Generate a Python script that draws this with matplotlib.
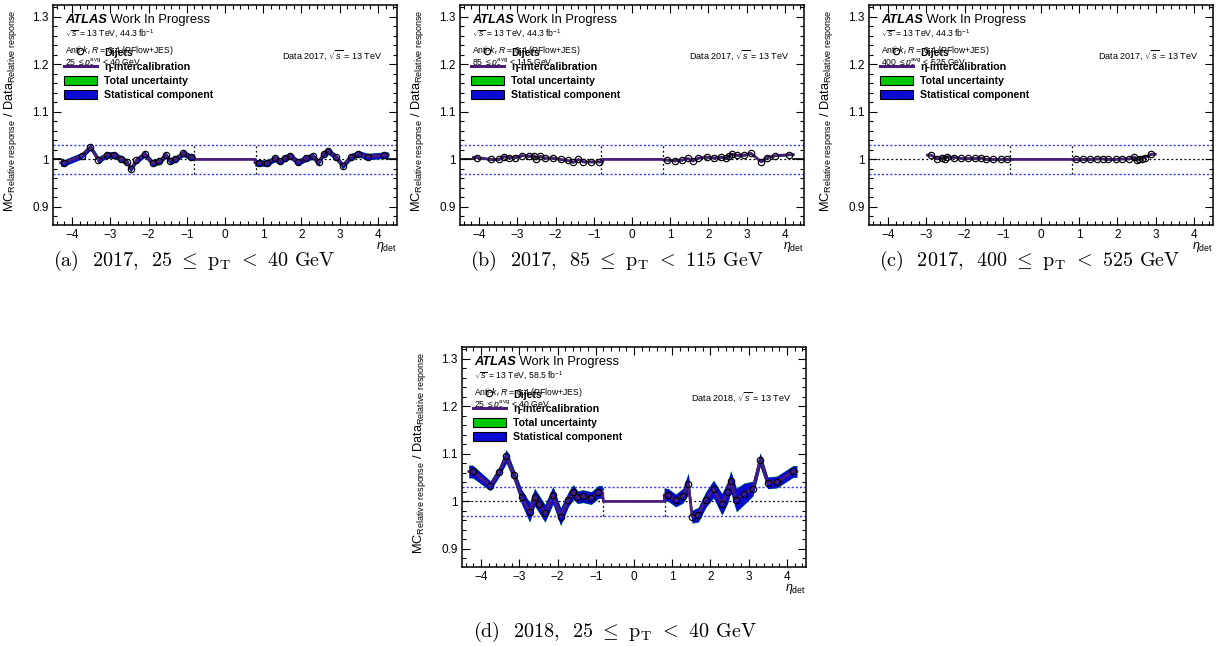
import matplotlib
matplotlib.use('Agg')
import matplotlib.pyplot as plt
from matplotlib.lines import Line2D
from matplotlib.patches import Patch
from matplotlib.ticker import MultipleLocator
import numpy as np

plt.rcParams['font.family'] = ['Liberation Sans', 'DejaVu Sans']
plt.rcParams['mathtext.fontset'] = 'custom'
plt.rcParams['mathtext.rm'] = 'Liberation Sans'
plt.rcParams['mathtext.it'] = 'Liberation Sans:italic'
plt.rcParams['mathtext.bf'] = 'Liberation Sans:bold'

# (a) 2017, 25-40 GeV
eta_a = [-4.20, -3.75, -3.52, -3.31, -3.10, -2.91, -2.71, -2.56, -2.47, -2.32, -2.10,
         -1.89, -1.72, -1.55, -1.44, -1.31, -1.09, -0.90,
         0.88, 1.09, 1.31, 1.44, 1.57, 1.70, 1.91, 2.11, 2.29, 2.45, 2.58, 2.70,
         2.90, 3.08, 3.30, 3.49, 3.74, 4.17]
resp_a = [0.993, 1.008, 1.026, 0.999, 1.009, 1.010, 1.001, 0.994, 0.980, 0.998, 1.011,
          0.992, 0.996, 1.009, 0.997, 1.000, 1.013, 1.005,
          0.993, 0.992, 1.002, 0.996, 1.003, 1.008, 0.994, 1.002, 1.007, 0.994, 1.012, 1.018,
          1.005, 0.987, 1.006, 1.012, 1.006, 1.009]
stat_a = 0.0065

# (b) 2017, 85-115 GeV
eta_b = [-4.05, -3.70, -3.48, -3.35, -3.23, -3.07, -2.87, -2.70, -2.56, -2.50, -2.41,
         -2.28, -2.06, -1.87, -1.68, -1.54, -1.40, -1.27, -1.07, -0.86,
         0.92, 1.12, 1.32, 1.46, 1.59, 1.73, 1.95, 2.15, 2.32, 2.47, 2.54, 2.61, 2.74,
         2.94, 3.11, 3.38, 3.53, 3.75, 4.12]
resp_b = [1.004, 1.000, 1.000, 1.006, 1.004, 1.004, 1.008, 1.007, 1.008, 1.001, 1.007,
          1.003, 1.003, 1.000, 0.998, 0.994, 1.000, 0.995, 0.995, 0.995,
          0.999, 0.997, 0.999, 1.002, 0.997, 1.003, 1.005, 1.003, 1.005, 1.002, 1.007, 1.011, 1.009,
          1.009, 1.013, 0.995, 1.004, 1.008, 1.010]
stat_b = 0.0018

# (c) 2017, 400-525 GeV
eta_c = [-2.87, -2.71, -2.58, -2.52, -2.45, -2.28, -2.08, -1.91, -1.73, -1.57, -1.44,
         -1.25, -1.05, -0.88,
         0.92, 1.10, 1.28, 1.46, 1.61, 1.76, 1.96, 2.13, 2.31, 2.44, 2.51, 2.57, 2.63,
         2.72, 2.89]
resp_c = [1.009, 1.001, 1.004, 1.000, 1.006, 1.004, 1.002, 1.002, 1.002, 1.003, 1.000,
          1.000, 1.000, 1.000,
          1.000, 1.000, 1.000, 1.001, 1.001, 1.000, 1.000, 1.001, 1.001, 1.005, 0.999, 1.000, 1.001,
          1.004, 1.011]
stat_c = 0.0012

# (d) 2018, 25-40 GeV
eta_d = [-4.22, -3.76, -3.54, -3.34, -3.14, -2.94, -2.73, -2.60, -2.48, -2.33, -2.12,
         -1.92, -1.72, -1.59, -1.48, -1.33, -1.12, -0.93,
         0.89, 1.09, 1.28, 1.42, 1.52, 1.68, 1.88, 2.08, 2.30, 2.45, 2.53, 2.68, 2.88,
         3.11, 3.30, 3.50, 3.74, 4.16]
resp_d = [1.063, 1.033, 1.061, 1.095, 1.055, 1.010, 0.977, 1.009, 0.994, 0.975, 1.013,
          0.968, 1.004, 1.020, 1.009, 1.011, 1.007, 1.020,
          1.014, 1.002, 1.012, 1.037, 0.968, 0.972, 1.004, 1.026, 0.994, 1.019, 1.042, 1.003, 1.016,
          1.027, 1.088, 1.039, 1.041, 1.063]
stat_d = [0.013, 0.010, 0.010, 0.014, 0.012, 0.015, 0.020, 0.018, 0.018, 0.018, 0.018,
          0.018, 0.015, 0.015, 0.013, 0.013, 0.013, 0.013,
          0.013, 0.013, 0.015, 0.022, 0.013, 0.015, 0.016, 0.018, 0.022, 0.022, 0.022, 0.024, 0.022,
          0.015, 0.014, 0.012, 0.012, 0.012]

purple = '#4a1d78'
blue = '#0a0ad2'
green = '#00c800'


def draw_panel(ax, eta, resp, stat, lumi, year, pt_lo, pt_hi, solid_ends):
    eta = np.array(eta)
    resp = np.array(resp)
    stat = np.broadcast_to(np.array(stat, dtype=float), eta.shape)

    ax.axhline(1.0, color='k', ls=(0, (1.5, 2)), lw=0.9, zorder=1)
    ax.axhline(1.03, color='#3a3aff', ls=(0, (1.5, 1.5)), lw=1.0, zorder=1)
    ax.axhline(0.97, color='#3a3aff', ls=(0, (1.5, 1.5)), lw=1.0, zorder=1)
    for xv in (-0.8, 0.8):
        ax.plot([xv, xv], [0.97, 1.03], color='k', ls=(0, (1.5, 2)), lw=0.9, zorder=1)

    line_x = []
    line_y = []
    for side in (eta < 0, eta > 0):
        x = eta[side]
        y = resp[side]
        s = stat[side]
        xe = np.r_[x[0] - 0.1, x, x[-1] + 0.1]
        ye = np.r_[y[0], y, y[-1]]
        se = np.r_[s[0], s, s[-1]]
        ax.fill_between(xe, ye - se * 1.05, ye + se * 1.05, color=green, lw=0, zorder=2)
        ax.fill_between(xe, ye - se, ye + se, color=blue, lw=0, zorder=3)
        line_x.append(xe)
        line_y.append(ye)
        if solid_ends:
            edge = -4.5 if x[0] < 0 else 4.5
            end = xe[0] if x[0] < 0 else xe[-1]
            ax.plot([edge, end], [1.0, 1.0], color='k', lw=1.2, zorder=2)

    lx = np.r_[line_x[0], -0.8, 0.8, line_x[1]]
    ly = np.r_[line_y[0], 1.0, 1.0, line_y[1]]
    ax.plot(lx, ly, color=purple, lw=2.0, zorder=4)
    ax.plot(eta, resp, ls='none', marker='o', ms=4.6, mfc='none', mec='k', mew=0.85, zorder=5)

    ax.set_xlim(-4.5, 4.5)
    ax.set_ylim(0.862, 1.325)
    ax.xaxis.set_major_locator(MultipleLocator(1))
    ax.xaxis.set_minor_locator(MultipleLocator(0.2))
    ax.yaxis.set_major_locator(MultipleLocator(0.1))
    ax.yaxis.set_minor_locator(MultipleLocator(0.02))
    ax.set_yticks([0.9, 1.0, 1.1, 1.2, 1.3])
    ax.set_yticklabels(['0.9', '1', '1.1', '1.2', '1.3'])
    ax.tick_params(which='both', direction='in', top=True, right=True, labelsize=8.5,
                   width=0.8, pad=3)
    ax.tick_params(which='major', length=5.5)
    ax.tick_params(which='minor', length=2.8)
    for sp in ax.spines.values():
        sp.set_linewidth(1.1)

    ax.set_ylabel(r'MC$_{\mathrm{Relative\ response}}$ / Data$_{\mathrm{Relative\ response}}$',
                  fontsize=9.2)
    ax.yaxis.set_label_coords(-0.098, 0.52)
    ax.text(1.0, -0.07, r'$\eta_{\mathrm{det}}$', transform=ax.transAxes, ha='right',
            va='top', fontsize=9)

    t = ax.text(0.035, 0.932, 'ATLAS', transform=ax.transAxes, fontsize=9.3,
                fontweight='bold', fontstyle='italic', va='center', zorder=6)
    ax.annotate(' Work In Progress', xy=(1, 0), xycoords=t, fontsize=9.3, va='bottom',
                zorder=6)
    ax.text(0.035, 0.868, r'$\sqrt{s}$ = 13 TeV, ' + lumi + r' fb$^{-1}$',
            transform=ax.transAxes, fontsize=6.2, va='center', zorder=6)
    ax.text(0.035, 0.795, r'Anti-$k_{t}$ $R$ = 0.4 (PFlow+JES)', transform=ax.transAxes,
            fontsize=6.2, va='center', zorder=6)
    ax.text(0.035, 0.732, pt_lo + r' $\leq p_{\mathrm{T}}^{\mathrm{avg}}$ < ' + pt_hi + ' GeV',
            transform=ax.transAxes, fontsize=6.2, va='center', zorder=6)
    ax.text(0.959, 0.773, 'Data ' + year + r', $\sqrt{s}$ = 13 TeV', transform=ax.transAxes,
            fontsize=6.5, ha='right', va='center', zorder=6)

    handles = [
        Line2D([], [], ls='none', marker='o', ms=4.6, mfc='none', mec='k', mew=0.85),
        Line2D([], [], color=purple, lw=2.2),
        Patch(facecolor=green, edgecolor='k', lw=0.8),
        Patch(facecolor=blue, edgecolor='k', lw=0.8),
    ]
    labels = ['Dijets', u'\u03b7-intercalibration', 'Total uncertainty', 'Statistical component']
    leg = ax.legend(handles, labels, loc='upper left', bbox_to_anchor=(0.032, 0.808),
                    frameon=False, borderpad=0, borderaxespad=0, handlelength=3.1,
                    handleheight=1.0, handletextpad=0.7, labelspacing=0.36,
                    prop={'weight': 'bold', 'size': 7.6})
    leg.set_zorder(7)


fig = plt.figure(figsize=(12.19, 6.46), dpi=100)
W = 344 / 1219
H = 220 / 646
ax_a = fig.add_axes([53 / 1219, 421 / 646, W, H])
ax_b = fig.add_axes([460 / 1219, 421 / 646, W, H])
ax_c = fig.add_axes([869 / 1219, 421 / 646, W, H])
ax_d = fig.add_axes([462 / 1219, 79 / 646, W, H])

draw_panel(ax_a, eta_a, resp_a, stat_a, '44.3', '2017', '25', '40', True)
draw_panel(ax_b, eta_b, resp_b, stat_b, '44.3', '2017', '85', '115', True)
draw_panel(ax_c, eta_c, resp_c, stat_c, '44.3', '2017', '400', '525', False)
draw_panel(ax_d, eta_d, resp_d, stat_d, '58.5', '2018', '25', '40', False)

captions = [
    (194, 261, 'a', '2017', '25', '40'),
    (617, 261, 'b', '2017', '85', '115'),
    (1030, 261, 'c', '2017', '400', '525'),
    (615, 632, 'd', '2018', '25', '40'),
]
for cx, cy, tag, yr, lo, hi in captions:
    txt = ('(' + tag + ')  ' + yr + ',  ' + lo + r' $\leq$ p$_{\mathrm{T}}$ $<$ '
           + hi + ' GeV')
    fig.text(cx / 1219, 1 - cy / 646, txt, ha='center', va='center', fontsize=14.5,
             family='cmr10', math_fontfamily='cm')

fig.savefig('out.png', dpi=100)
